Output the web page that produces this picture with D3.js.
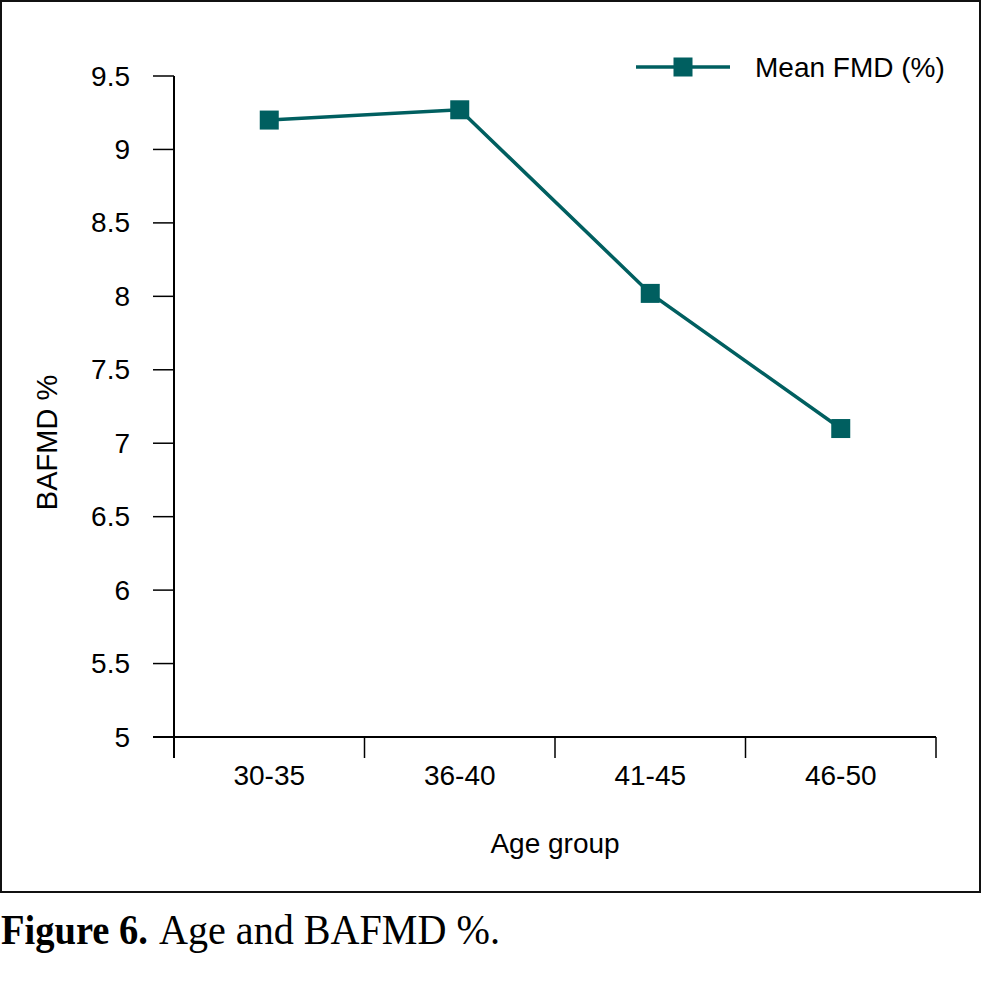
<!DOCTYPE html>
<html>
<head>
<meta charset="utf-8">
<script src="https://cdn.jsdelivr.net/npm/d3@7"></script>
<style>
  html, body { margin: 0; padding: 0; background: #fff; }
  svg { display: block; }
</style>
</head>
<body>
<svg id="chart" width="983" height="1004"></svg>
<script>
const categories = ["30-35", "36-40", "41-45", "46-50"];
const meanFMD = [9.2, 9.27, 8.02, 7.1];
const yTicks = [5, 5.5, 6, 6.5, 7, 7.5, 8, 8.5, 9, 9.5];
const seriesName = "Mean FMD (%)";
const xTitle = "Age group";
const yTitle = "BAFMD %";
const captionBold = "Figure 6.";
const captionText = "Age and BAFMD %.";

const color = "#005f60";
const font = "'Liberation Sans', Arial, sans-serif";
const svg = d3.select("#chart");

// frame
svg.append("rect").attr("x", 1).attr("y", 1).attr("width", 979).attr("height", 891)
  .attr("fill", "none").attr("stroke", "#111").attr("stroke-width", 2);

const x = d3.scaleBand().domain(categories).range([174, 936]).padding(0);
const y = d3.scaleLinear().domain([5, 9.5]).range([737, 76]);

const x0 = x.range()[0], x1 = x.range()[1];
const tickLen = 21;

// y axis
const yAxis = svg.append("g");
yAxis.append("line").attr("x1", x0).attr("x2", x0)
  .attr("y1", y(9.5)).attr("y2", y(5) + tickLen)
  .attr("stroke", "#000").attr("stroke-width", 2);
yAxis.selectAll("line.tick").data(yTicks).enter().append("line")
  .attr("class", "tick")
  .attr("x1", x0 - tickLen).attr("x2", x0)
  .attr("y1", d => y(d)).attr("y2", d => y(d))
  .attr("stroke", "#000").attr("stroke-width", 1.5);
yAxis.selectAll("text").data(yTicks).enter().append("text")
  .attr("x", x0 - tickLen - 23).attr("y", d => y(d)).attr("dy", "0.34em")
  .attr("text-anchor", "end").attr("font-family", font).attr("font-size", 28)
  .attr("fill", "#000").text(d => d3.format("~g")(d));

// x axis
const xAxis = svg.append("g");
xAxis.append("line").attr("x1", x0 - tickLen).attr("x2", x1)
  .attr("y1", y(5)).attr("y2", y(5))
  .attr("stroke", "#000").attr("stroke-width", 2);
const bounds = categories.map(c => x(c)).concat([x1]);
xAxis.selectAll("line.tick").data(bounds.slice(1)).enter().append("line")
  .attr("class", "tick")
  .attr("x1", d => d).attr("x2", d => d)
  .attr("y1", y(5)).attr("y2", y(5) + tickLen)
  .attr("stroke", "#000").attr("stroke-width", 1.5);
xAxis.selectAll("text").data(categories).enter().append("text")
  .attr("x", d => x(d) + x.bandwidth() / 2).attr("y", y(5) + 48)
  .attr("text-anchor", "middle").attr("font-family", font).attr("font-size", 28)
  .attr("fill", "#000").text(d => d);

// axis titles
svg.append("text").attr("x", (x0 + x1) / 2).attr("y", y(5) + 116)
  .attr("text-anchor", "middle").attr("font-family", font).attr("font-size", 28)
  .text(xTitle);
svg.append("text").attr("transform", `translate(57, ${(y(5) + y(9.5)) / 2 + 36}) rotate(-90)`)
  .attr("text-anchor", "middle").attr("font-family", font).attr("font-size", 29)
  .text(yTitle);

// series
const pts = categories.map((c, i) => ({ c, v: meanFMD[i] }));
const line = d3.line().x(d => x(d.c) + x.bandwidth() / 2).y(d => y(d.v));
svg.append("path").datum(pts).attr("d", line)
  .attr("fill", "none").attr("stroke", color).attr("stroke-width", 3.5);
const ms = 19;
svg.selectAll("rect.marker").data(pts).enter().append("rect")
  .attr("class", "marker")
  .attr("x", d => x(d.c) + x.bandwidth() / 2 - ms / 2)
  .attr("y", d => y(d.v) - ms / 2)
  .attr("width", ms).attr("height", ms).attr("fill", color);

// legend
const lg = svg.append("g").attr("transform", "translate(636, 67)");
lg.append("line").attr("x1", 0).attr("x2", 94).attr("y1", 0).attr("y2", 0)
  .attr("stroke", color).attr("stroke-width", 3.5);
lg.append("rect").attr("x", 47 - ms / 2).attr("y", -ms / 2).attr("width", ms).attr("height", ms)
  .attr("fill", color);
lg.append("text").attr("x", 119).attr("y", 0).attr("dy", "0.34em")
  .attr("font-family", font).attr("font-size", 28).text(seriesName);

// caption
const serif = "'Liberation Serif', 'Times New Roman', serif";
svg.append("text").attr("x", 1).attr("y", 944)
  .attr("font-family", serif).attr("font-size", 42).attr("font-weight", "bold")
  .attr("textLength", 147).attr("lengthAdjust", "spacingAndGlyphs")
  .text(captionBold);
svg.append("text").attr("x", 159).attr("y", 944)
  .attr("font-family", serif).attr("font-size", 42)
  .attr("textLength", 341).attr("lengthAdjust", "spacingAndGlyphs")
  .text(captionText);
</script>
</body>
</html>
